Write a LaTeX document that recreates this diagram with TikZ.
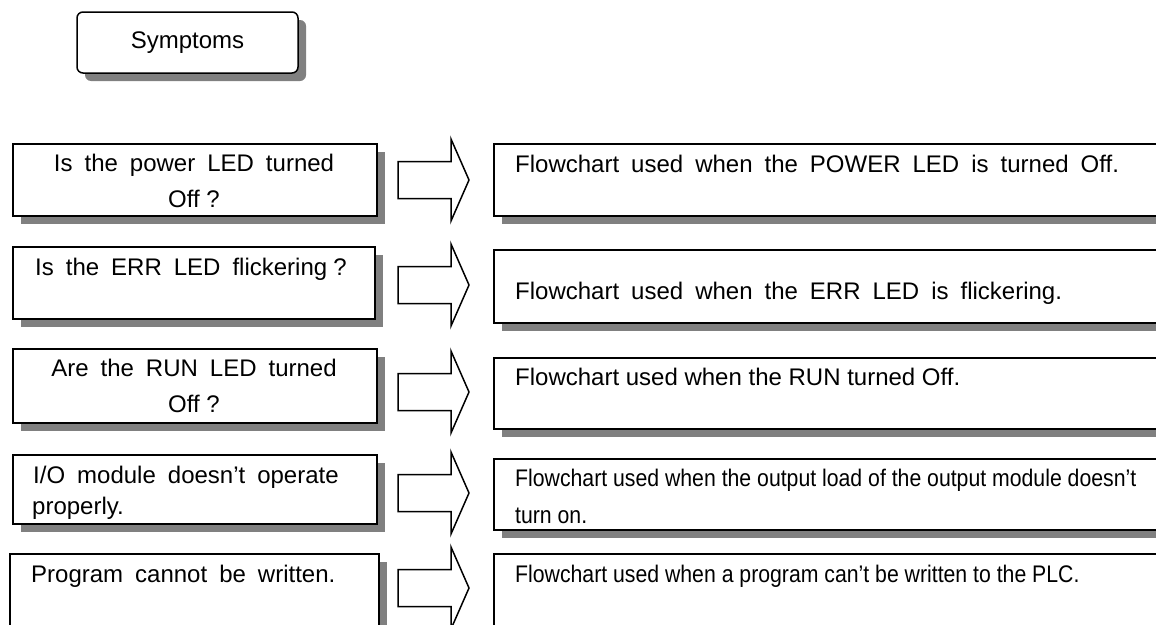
\documentclass[tikz,border=0pt]{standalone}
\usepackage{fontspec}
\setmainfont{Liberation Sans}
\newfontfamily\narrowfont[FakeStretch=0.885]{Liberation Sans}
\usetikzlibrary{shadows}

\tikzset{
  boxshadow/.style={drop shadow={shadow xshift=8pt, shadow yshift=-8pt, fill=black!50, opacity=1}},
  txt/.style={inner sep=0pt, font=\fontsize{24}{36}\selectfont},
  wide/.style={txt, execute at begin node={\spaceskip=12pt\relax}},
  narrow/.style={inner sep=0pt, font=\fontsize{24}{36}\narrowfont},
  symbox/.style={draw, line width=1.5pt, fill=white, rounded corners=6pt, minimum width=221pt, minimum height=61pt, boxshadow},
  qbox/.style={draw, line width=1.5pt, fill=white, anchor=north west, inner sep=0pt, boxshadow},
  fcbox/.style={qbox, minimum width=700pt},
  blockarrow/.style={draw, line width=1.5pt, fill=white, line join=miter}
}

\begin{document}
\begin{tikzpicture}[x=1pt, y=-1pt]
\useasboundingbox (0,0) rectangle (1156,624);
\clip (0,0) rectangle (1156,624);

% title
\node[symbox, txt] (symp) at (187.5,42.5) {Symptoms};

% symptom boxes
\node[qbox, minimum width=364pt, minimum height=72pt] (q1) at (12,143) {};
\node[qbox, minimum width=362pt, minimum height=72pt] (q2) at (12,246) {};
\node[qbox, minimum width=364pt, minimum height=74pt] (q3) at (12,348) {};
\node[qbox, minimum width=364pt, minimum height=69pt] (q4) at (12,454) {};
\node[qbox, minimum width=369pt, minimum height=80pt] (q5) at (9,553) {};

\node[wide, anchor=base] (q1a) at (194,171) {Is the power LED turned};
\node[txt, anchor=base] (q1b) at (194,207) {Off ?};
\node[wide, anchor=base west] (q2a) at (35,275) {Is the ERR LED flickering\hspace{6pt}?};
\node[wide, anchor=base] (q3a) at (194,376) {Are the RUN LED turned};
\node[txt, anchor=base] (q3b) at (194,412) {Off ?};
\node[wide, anchor=base west] (q4a) at (33,483) {I/O module doesn’t operate};
\node[txt, anchor=base west] (q4b) at (32,514) {properly.};
\node[wide, anchor=base west] (q5a) at (31,582) {Program cannot be written.};

% block arrows
\foreach \y in {180,285,392,493,588} {
  \draw[blockarrow] (398,\y-18.5) -- (451,\y-18.5) -- (451,\y-41) -- (469,\y)
    -- (451,\y+41) -- (451,\y+18.5) -- (398,\y+18.5) -- cycle;
}

% flowchart boxes
\node[fcbox, minimum height=72pt] (f1) at (493,143) {};
\node[fcbox, minimum height=73pt] (f2) at (493,249) {};
\node[fcbox, minimum height=71pt] (f3) at (493,357) {};
\node[fcbox, minimum height=71pt] (f4) at (493,458) {};
\node[fcbox, minimum height=80pt] (f5) at (493,553) {};

\node[wide, anchor=base west] (f1a) at (515,172) {Flowchart used when the POWER LED is turned Off.};
\node[wide, anchor=base west] (f2a) at (515,299) {Flowchart used when the ERR LED is flickering.};
\node[txt, anchor=base west] (f3a) at (515,385) {Flowchart used when the RUN turned Off.};
\node[narrow, anchor=base west] (f4a) at (515,486) {Flowchart used when the output load of the output module doesn’t};
\node[narrow, anchor=base west] (f4b) at (515,523) {turn on.};
\node[narrow, anchor=base west] (f5a) at (515,582) {Flowchart used when a program can’t be written to the PLC.};

\end{tikzpicture}
\end{document}
